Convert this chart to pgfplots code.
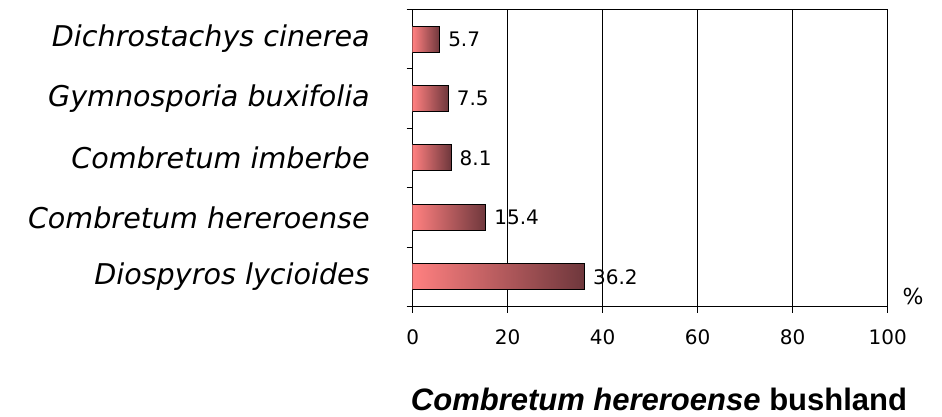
\documentclass[border=0pt]{standalone}
\usepackage{pgfplots}
\pgfplotsset{compat=1.18}
\usepackage{fontspec}
\setmainfont{DejaVu Sans}
\newfontfamily\titlefont{Liberation Sans}
\definecolor{barL}{HTML}{FF8080}
\definecolor{barR}{HTML}{6E373C}

\pgfplotsset{
  gradbar/.style={
    draw=black, line width=0.5pt,
    left color=barL, right color=barR,
    nodes near coords={\pgfmathprintnumber[fixed,fixed zerofill,precision=1,assume math mode=true]{\pgfplotspointmeta}},
    nodes near coords style={font=\fontsize{10}{12}\selectfont, anchor=west, inner sep=0pt, xshift=4pt, text=black},
  },
}

\begin{document}
\begin{tikzpicture}
% page frame, 1px = 0.5pt, origin = lower left of plot box
\path[use as bounding box] (-206.35pt,-55.15pt) rectangle (264.65pt,153.35pt);
\begin{axis}[
  at={(0,0)}, anchor=south west,
  scale only axis,
  width=237.5pt, height=148.7pt,
  xbar, bar width=13pt, bar shift=0pt,
  xmin=0, xmax=100, ymin=-0.5, ymax=4.5,
  xtick={0,20,...,100},
  ytick={0,...,4},
  yticklabels={{Diospyros lycioides\hspace{10pt}},
               {Combretum hereroense},
               {Combretum imberbe\hspace{4pt}},
               {Gymnosporia buxifolia},
               {Dichrostachys cinerea}},
  minor ytick={-0.5,0.5,...,4.5},
  xtick pos=bottom, ytick pos=left,
  tick align=outside,
  major tick length=3pt, minor tick length=3pt,
  major y tick style={draw=none},
  tick style={black, line width=0.6pt},
  xmajorgrids,
  major grid style={black, line width=0.5pt},
  axis line style={black, line width=0.6pt},
  /pgf/number format/assume math mode=true,
  xticklabel style={font=\fontsize{10}{12}\selectfont, anchor=north, inner sep=0pt, yshift=-8.4pt},
  yticklabel style={font=\fontsize{14.3}{16}\selectfont\itshape, anchor=east, inner sep=0pt, xshift=-18.3pt},
  xlabel={\%},
  xlabel style={at={(1,0)}, anchor=center, inner sep=0pt, xshift=12.65pt, yshift=5.3pt,
                font=\fontsize{11}{13}\selectfont},
  title={\titlefont\bfseries\itshape Combretum hereroense\/ \upshape bushland},
  title style={at={(0.5185,0)}, anchor=base, inner sep=0pt, yshift=-57.7pt,
               font=\fontsize{15.5}{18}\selectfont},
]
% one plot per bar, so that each bar has its own gradient
\addplot [gradbar] coordinates {(36.2,0)};
\addplot [gradbar] coordinates {(15.4,1)};
\addplot [gradbar] coordinates {(8.1,2)};
\addplot [gradbar] coordinates {(7.5,3)};
\addplot [gradbar] coordinates {(5.7,4)};
\end{axis}
\end{tikzpicture}
\end{document}
